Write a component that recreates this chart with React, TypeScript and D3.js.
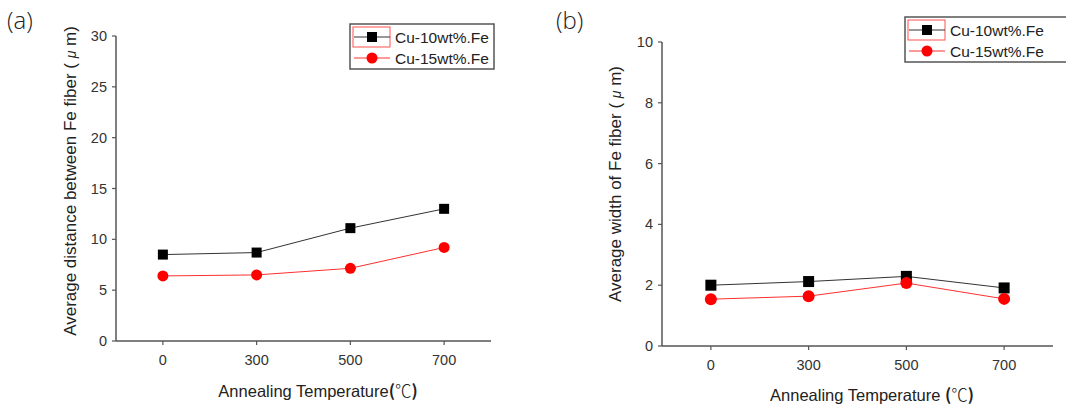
import React from "react";
import * as d3 from "d3";

const temperatures = ["0", "300", "500", "700"];
const seriesNames = ["Cu-10wt%.Fe", "Cu-15wt%.Fe"];
const distance10 = [8.5, 8.7, 11.1, 13.0];
const distance15 = [6.4, 6.5, 7.15, 9.2];
const width10 = [2.0, 2.12, 2.29, 1.91];
const width15 = [1.54, 1.64, 2.07, 1.55];
const yTicksA = [0, 5, 10, 15, 20, 25, 30];
const yTicksB = [0, 2, 4, 6, 8, 10];

const FONT = "'Liberation Sans', Arial, sans-serif";
const CJK = "'Noto Sans CJK SC', sans-serif";

type PanelProps = {
  label: string;
  x0: number;
  x1: number;
  yTop: number;
  yBottom: number;
  yMax: number;
  yTicks: number[];
  s1: number[];
  s2: number[];
  yLabel: string;
  yLabelX: number;
  yLabelY: number;
  xLabel: string;
  xLabelX: number;
  xLabelY: number;
  panelLabelX: number;
  legendX: number;
  legendY: number;
  legendW: number;
  marker: number;
};

function Panel(p: PanelProps) {
  const x = d3.scalePoint<string>().domain(temperatures).range([p.x0, p.x1]).padding(0.5);
  const y = d3.scaleLinear().domain([0, p.yMax]).range([p.yBottom, p.yTop]);
  const line = d3
    .line<number>()
    .x((_, i) => x(temperatures[i]) as number)
    .y((d) => y(d));
  const axisColor = "#555";
  const sq = p.marker;
  const r = p.marker / 2 + 0.5;
  const lx = p.legendX;
  const ly = p.legendY;
  return (
    <g>
      <text x={p.panelLabelX} y={29} fontFamily="'Open Sans', sans-serif" fontWeight={300} fontSize={24} fill="#222">
        {p.label}
      </text>
      {/* axes */}
      <line x1={p.x0} x2={p.x0} y1={p.yTop} y2={p.yBottom} stroke={axisColor} strokeWidth={1.5} />
      <line x1={p.x0} x2={p.x1} y1={p.yBottom} y2={p.yBottom} stroke={axisColor} strokeWidth={1.5} />
      {p.yTicks.map((t) => (
        <g key={"y" + t}>
          <line x1={p.x0 - 4} x2={p.x0} y1={y(t)} y2={y(t)} stroke={axisColor} strokeWidth={1.2} />
          <text x={p.x0 - 9} y={y(t)} dy="0.35em" textAnchor="end" fontFamily={FONT} fontSize={14.5} fill="#333">
            {t}
          </text>
        </g>
      ))}
      {temperatures.map((t) => (
        <g key={"x" + t}>
          <line x1={x(t)} x2={x(t)} y1={p.yBottom} y2={p.yBottom + 4} stroke={axisColor} strokeWidth={1.2} />
          <text x={x(t)} y={p.yBottom + 19} dy="0.35em" textAnchor="middle" fontFamily={FONT} fontSize={14.5} fill="#333">
            {t}
          </text>
        </g>
      ))}
      <text
        transform={`translate(${p.yLabelX},${p.yLabelY}) rotate(-90)`}
        textAnchor="middle"
        dy="0.35em"
        fontFamily={FONT}
        fontSize={17}
        fill="#222"
      >
        {p.yLabel} ( <tspan fontStyle="italic" fontSize={14}>μ</tspan> m)
      </text>
      <text x={p.xLabelX} y={p.xLabelY} dy="0.35em" textAnchor="middle" fontFamily={FONT} fontSize={16.5} fill="#222">
        {p.xLabel}
        <tspan fontFamily={CJK} fontWeight={700}>(</tspan>
        <tspan fontFamily={CJK} fontWeight={300}>℃</tspan>
        <tspan fontFamily={CJK} fontWeight={700}>)</tspan>
      </text>
      {/* series */}
      <path d={line(p.s1) || ""} fill="none" stroke="#333" strokeWidth={1} />
      <path d={line(p.s2) || ""} fill="none" stroke="#ff3030" strokeWidth={1} />
      {p.s1.map((v, i) => (
        <rect
          key={"s" + i}
          x={(x(temperatures[i]) as number) - sq / 2}
          y={y(v) - sq / 2}
          width={sq}
          height={sq}
          fill="#000"
        />
      ))}
      {p.s2.map((v, i) => (
        <circle key={"c" + i} cx={x(temperatures[i]) as number} cy={y(v)} r={r} fill="#ff0000" />
      ))}
      {/* legend */}
      <rect x={lx} y={ly} width={p.legendW} height={45} fill="#fff" stroke="#555" strokeWidth={1.5} />
      <rect x={lx + 3} y={ly + 3} width={37} height={20} fill="none" stroke="#ff5050" strokeWidth={1} />
      <line x1={lx + 4} x2={lx + 40} y1={ly + 13} y2={ly + 13} stroke="#333" strokeWidth={1} />
      <rect x={lx + 22 - 5} y={ly + 13 - 5} width={10} height={10} fill="#000" />
      <text x={lx + 45} y={ly + 13} dy="0.36em" fontFamily={FONT} fontSize={15.5} fill="#222">
        {seriesNames[0]}
      </text>
      <line x1={lx + 4} x2={lx + 40} y1={ly + 34} y2={ly + 34} stroke="#ff3030" strokeWidth={1} />
      <circle cx={lx + 22} cy={ly + 34} r={5.5} fill="#ff0000" />
      <text x={lx + 45} y={ly + 34} dy="0.36em" fontFamily={FONT} fontSize={15.5} fill="#222">
        {seriesNames[1]}
      </text>
    </g>
  );
}

export default function App() {
  return (
    <svg width={1066} height={407} style={{ position: "absolute", left: 0, top: 0, background: "#fff" }}>
      <rect width={1066} height={407} fill="#fff" />
      <Panel
        label="(a)"
        x0={116}
        x1={491}
        yTop={36}
        yBottom={341}
        yMax={30}
        yTicks={yTicksA}
        s1={distance10}
        s2={distance15}
        yLabel="Average distance between Fe fiber"
        yLabelX={70}
        yLabelY={181}
        xLabel="Annealing Temperature"
        xLabelX={318}
        xLabelY={391}
        panelLabelX={7}
        legendX={350}
        legendY={24}
        legendW={144}
        marker={10}
      />
      <Panel
        label="(b)"
        x0={662}
        x1={1053}
        yTop={42}
        yBottom={346}
        yMax={10}
        yTicks={yTicksB}
        s1={width10}
        s2={width15}
        yLabel="Average width of Fe fiber"
        yLabelX={615}
        yLabelY={184}
        xLabel="Annealing Temperature "
        xLabelX={872}
        xLabelY={395}
        panelLabelX={556}
        legendX={905}
        legendY={17}
        legendW={170}
        marker={11}
      />
    </svg>
  );
}
